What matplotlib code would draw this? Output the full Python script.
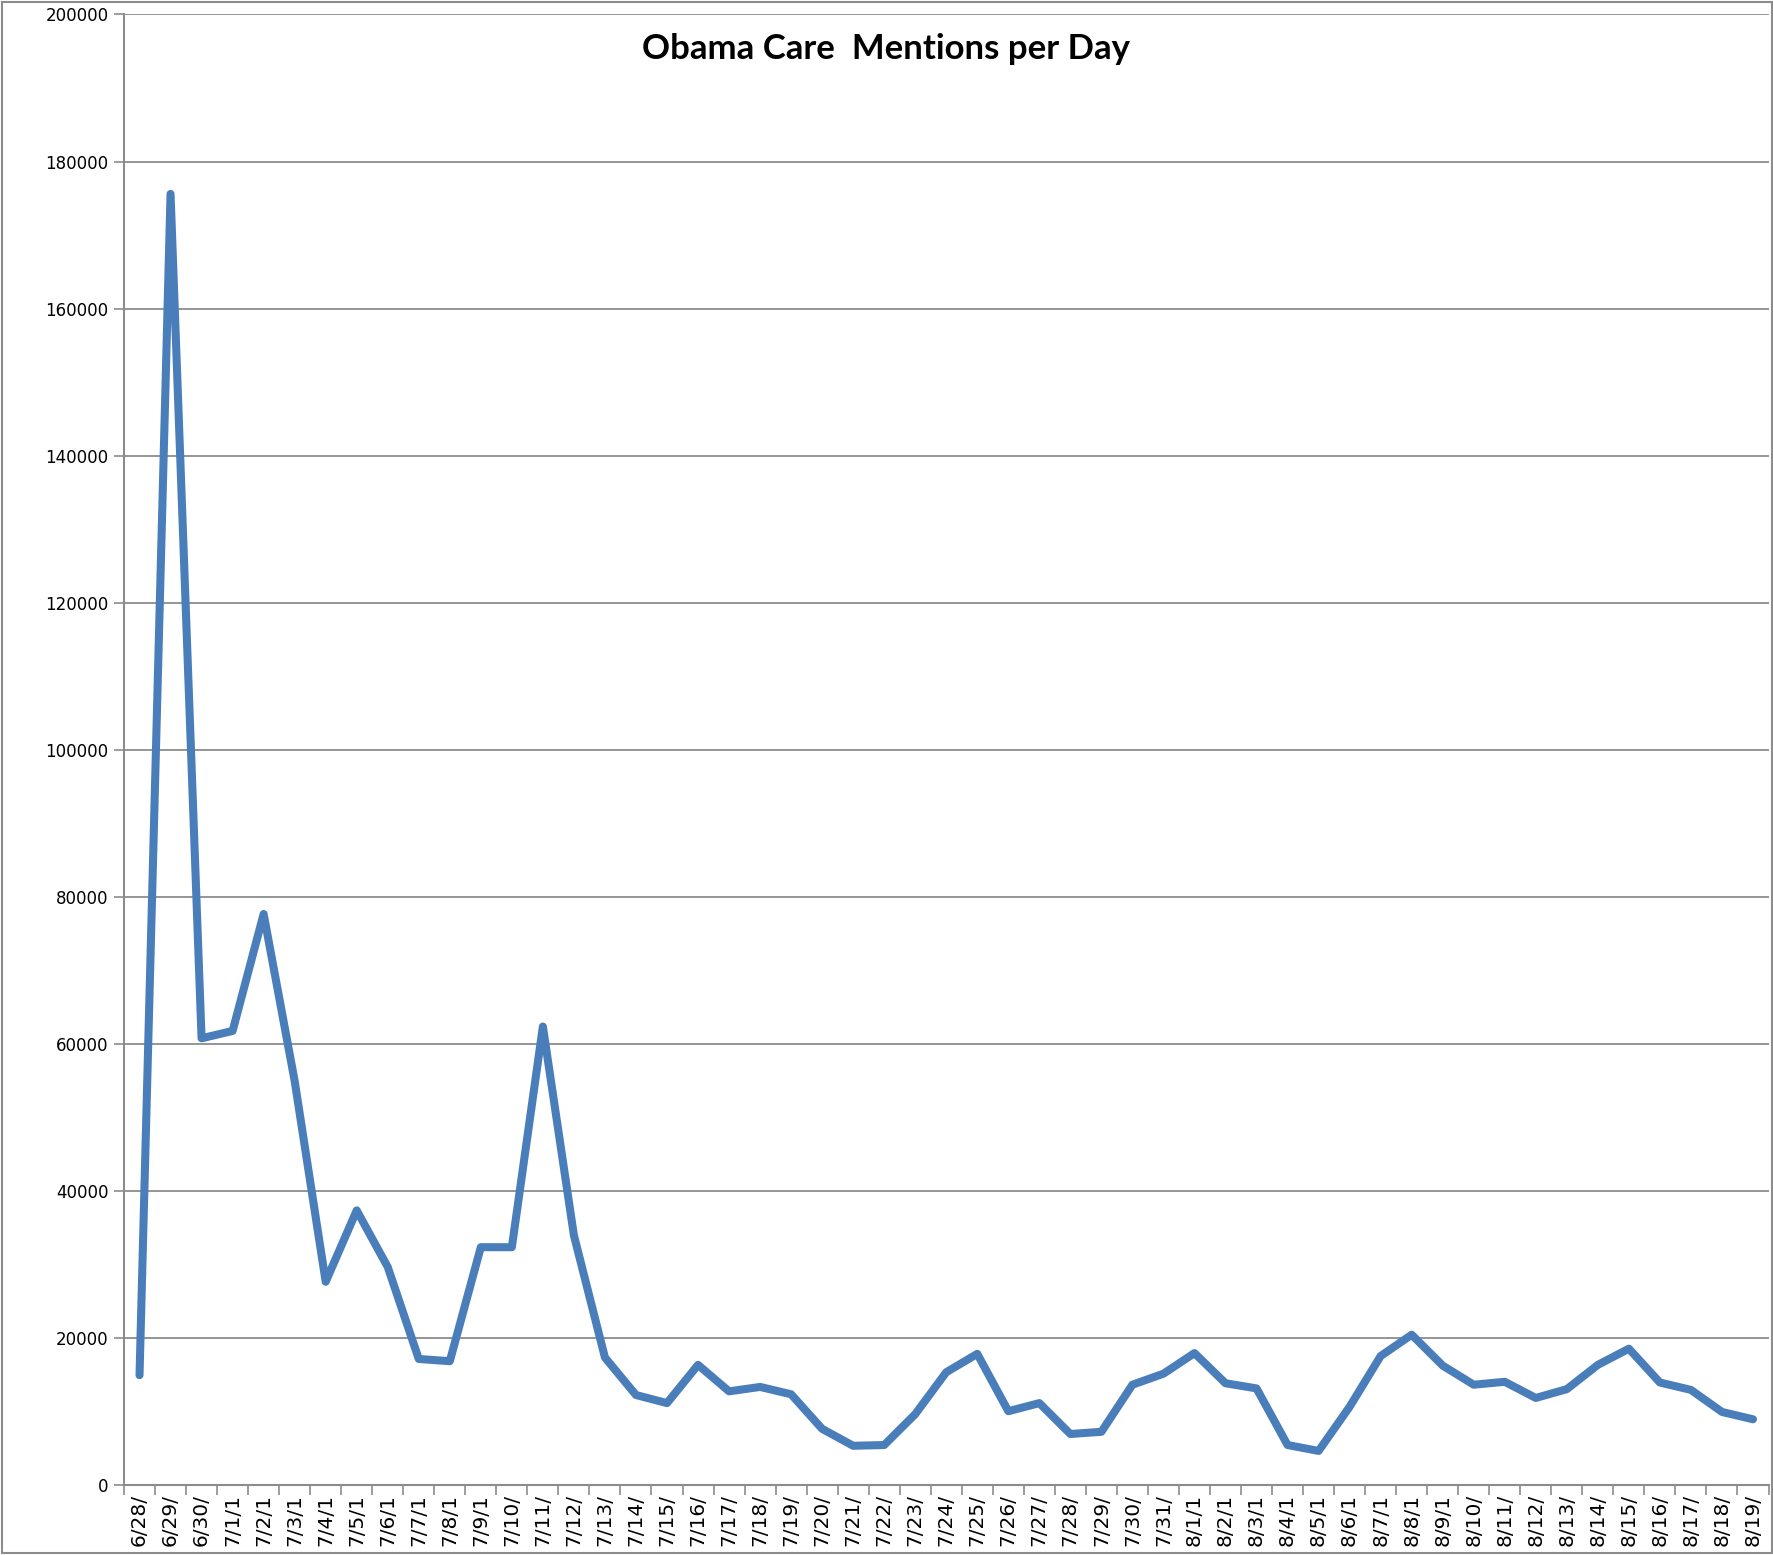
import numpy as np
import matplotlib
matplotlib.use("Agg")
import matplotlib.pyplot as plt
from matplotlib.patches import Rectangle

# day labels as they appear (truncated) on the axis
days = ["6/28/", "6/29/", "6/30/", "7/1/1", "7/2/1", "7/3/1", "7/4/1", "7/5/1",
        "7/6/1", "7/7/1", "7/8/1", "7/9/1", "7/10/", "7/11/", "7/12/", "7/13/",
        "7/14/", "7/15/", "7/16/", "7/17/", "7/18/", "7/19/", "7/20/", "7/21/",
        "7/22/", "7/23/", "7/24/", "7/25/", "7/26/", "7/27/", "7/28/", "7/29/",
        "7/30/", "7/31/", "8/1/1", "8/2/1", "8/3/1", "8/4/1", "8/5/1", "8/6/1",
        "8/7/1", "8/8/1", "8/9/1", "8/10/", "8/11/", "8/12/", "8/13/", "8/14/",
        "8/15/", "8/16/", "8/17/", "8/18/", "8/19/"]

mentions = [15000, 175600, 60800, 61800, 77700, 55000, 27700, 37400,
            29700, 17200, 16900, 32400, 32400, 62400, 34000, 17400,
            12300, 11200, 16400, 12800, 13400, 12400, 7700, 5400,
            5500, 9700, 15400, 17900, 10100, 11200, 7000, 7300,
            13700, 15200, 18000, 13900, 13200, 5500, 4700, 10700,
            17600, 20500, 16300, 13700, 14100, 11900, 13100, 16400,
            18600, 14000, 13000, 10000, 9000]

grey = "#8c8c8c"

fig = plt.figure(figsize=(17.74, 15.55), dpi=100)
ax = fig.add_axes([0.0699, 0.0447, 0.927, 0.946])

x = np.arange(len(days))
ax.plot(x, mentions, color="#4a7ebb", linewidth=5.8,
        solid_capstyle="round", solid_joinstyle="round", zorder=3)

ax.set_xlim(-0.5, len(days) - 0.5)
ax.set_ylim(0, 200000)

# y axis
ax.set_yticks(np.arange(0, 200001, 20000))
ax.set_yticklabels([str(v) for v in range(0, 200001, 20000)], fontsize=12)
ax.yaxis.grid(True, color=grey, linewidth=1.3)
ax.set_axisbelow(True)

# x axis: tick marks between categories, labels at the centres
ax.set_xticks(np.arange(-0.5, len(days)), labels=[""] * (len(days) + 1))
ax.set_xticks(x, labels=days, minor=True)
ax.tick_params(axis="x", which="minor", length=0, rotation=90, labelsize=14.5, pad=6)
ax.tick_params(axis="x", which="major", length=7, width=1.2, color=grey)
ax.tick_params(axis="y", length=7, width=1.2, color=grey, pad=4)

for s in ["top", "right"]:
    ax.spines[s].set_visible(False)
for s in ["left", "bottom"]:
    ax.spines[s].set_color(grey)
    ax.spines[s].set_linewidth(1.5)

fig.text(0.4994, 0.9687, "Obama Care  Mentions per Day", fontsize=25,
         fontweight="bold", family=["Lato", "DejaVu Sans"], ha="center", va="center")

# chart border
fig.patches.append(Rectangle((0.001, 0.001), 0.998, 0.998, transform=fig.transFigure,
                             fill=False, edgecolor=grey, linewidth=1.5))

fig.savefig("out.png", dpi=100)
